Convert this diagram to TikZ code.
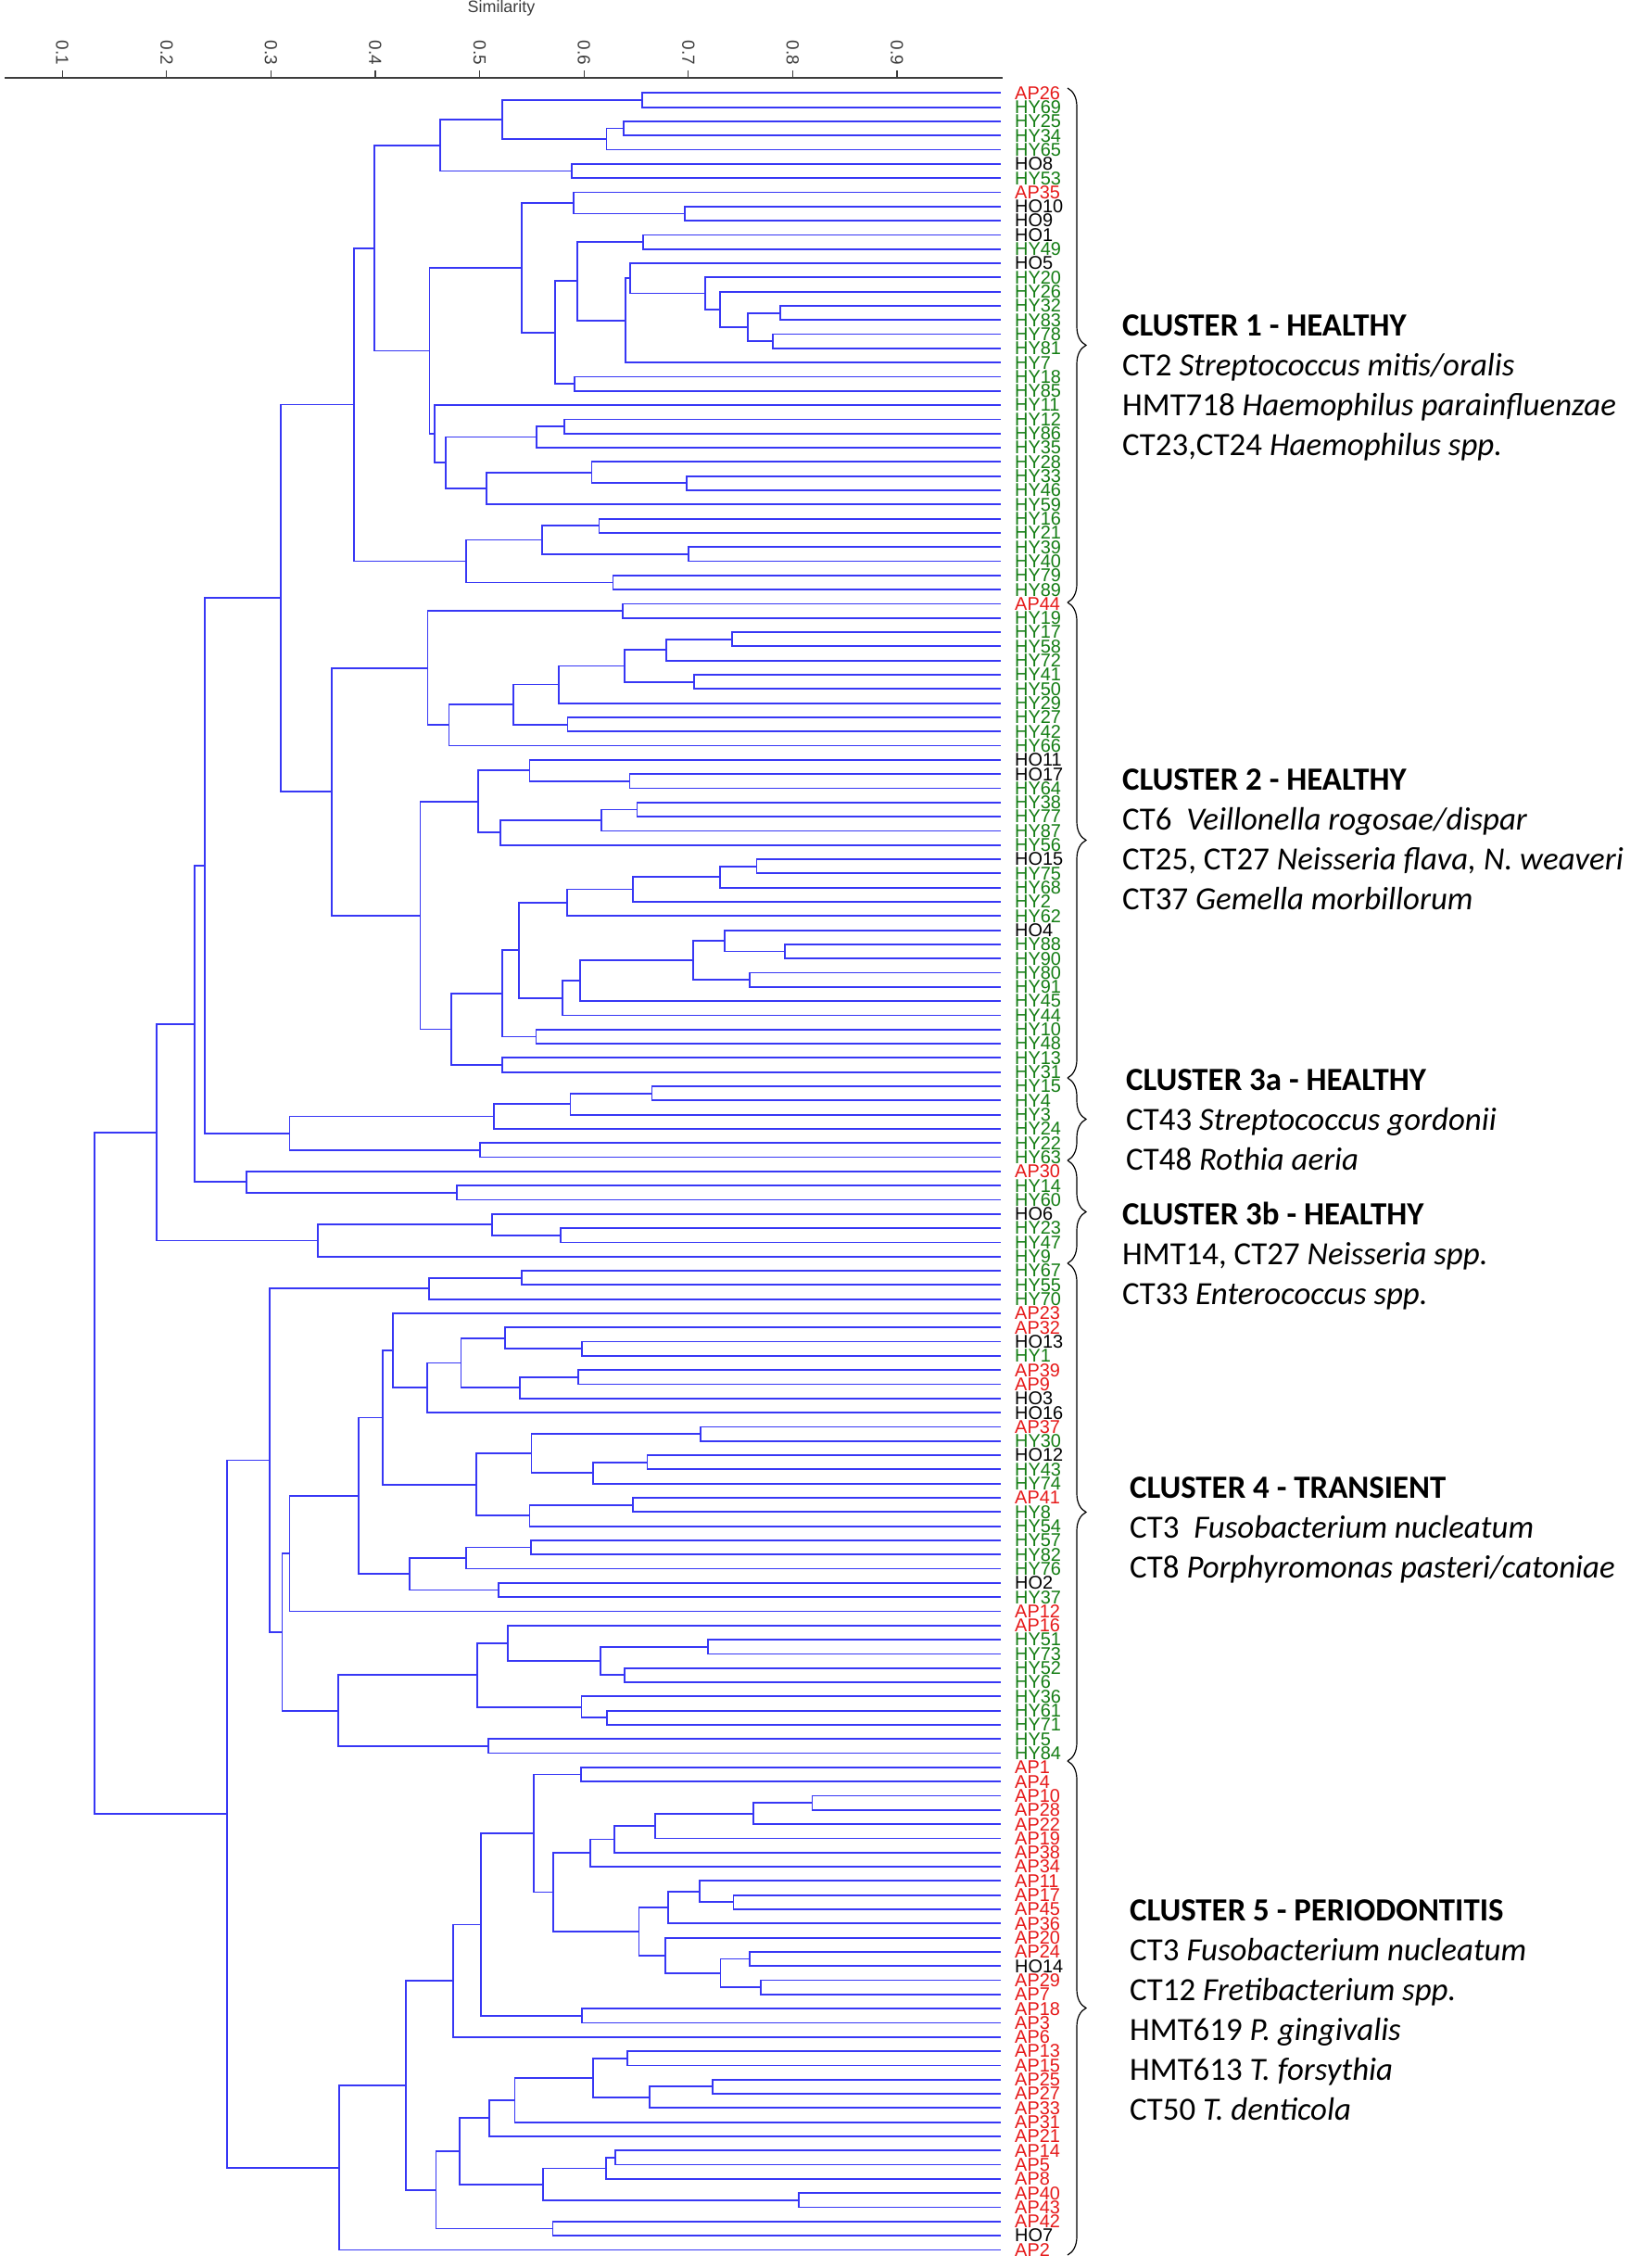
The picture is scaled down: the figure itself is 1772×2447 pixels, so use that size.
\documentclass[tikz,border=0pt]{standalone}
\usepackage{fontspec}
\setmainfont{Carlito}
\newfontfamily\plotfont{Liberation Sans}
\usetikzlibrary{calc,decorations.pathreplacing}

\definecolor{treeblue}{RGB}{55,55,245}
\definecolor{AP}{RGB}{230,25,25}
\definecolor{HY}{RGB}{20,125,20}
\definecolor{HO}{RGB}{0,0,0}
\definecolor{axisgray}{RGB}{60,60,60}

\tikzset{
  branch/.style={draw=treeblue, line width=1.8bp},
  leaf/.style={anchor=west, inner xsep=15bp, inner ysep=0pt, text=#1,
    font=\plotfont\fontsize{20}{20}\selectfont},
  ticklabel/.style={rotate=-90, inner sep=0pt, text=axisgray,
    font=\plotfont\fontsize{19}{19}\selectfont},
  clbrace/.style={decorate, decoration={brace, amplitude=20bp}, line width=1.2bp},
  clhead/.style={anchor=base west, inner sep=0pt, font=\fontsize{35}{35}\selectfont\bfseries},
  clline/.style={anchor=base west, inner sep=0pt, font=\fontsize{35}{35}\selectfont}
}

% join two children (leaf or merge) at position x of the similarity axis
\newcommand\joinpair[4]{%
  \coordinate (#1m) at ($(#2.west)!.5!(#3.west)$);
  \coordinate (#1x) at (#4,0);
  \coordinate (#1) at (#1m -| #1x);
  \draw[branch] (#2.west) -| (#1) |- (#3.west);
}

\begin{document}
\begin{tikzpicture}[x=1bp,y=-1bp]
\useasboundingbox (0,0) rectangle (1772,2447);
%%% similarity axis
\node[anchor=base, inner sep=0pt, text=axisgray, font=\plotfont\fontsize{18}{18}\selectfont] (simtitle) at (541,13.5) {Similarity};
\draw[axisgray, line width=1.6bp] (5,84) coordinate (ax0) -- (1082,84) coordinate (ax1);
\foreach \k in {1,...,9}{
  \draw[axisgray, line width=1.3bp] ({67.2+(\k-1)*112.6},76) -- ({67.2+(\k-1)*112.6},84);
  \node[ticklabel] (tick\k) at ({67.2+(\k-1)*112.6},57) {0.\k};
}
%%% samples (leaves)
\foreach \grp/\num [count=\i] in {AP/26,HY/69,HY/25,HY/34,HY/65,HO/8,HY/53,AP/35,HO/10,HO/9,
  HO/1,HY/49,HO/5,HY/20,HY/26,HY/32,HY/83,HY/78,HY/81,HY/7,HY/18,HY/85,HY/11,HY/12,HY/86,
  HY/35,HY/28,HY/33,HY/46,HY/59,HY/16,HY/21,HY/39,HY/40,HY/79,HY/89,AP/44,HY/19,HY/17,HY/58,
  HY/72,HY/41,HY/50,HY/29,HY/27,HY/42,HY/66,HO/11,HO/17,HY/64,HY/38,HY/77,HY/87,HY/56,HO/15,
  HY/75,HY/68,HY/2,HY/62,HO/4,HY/88,HY/90,HY/80,HY/91,HY/45,HY/44,HY/10,HY/48,HY/13,HY/31,
  HY/15,HY/4,HY/3,HY/24,HY/22,HY/63,AP/30,HY/14,HY/60,HO/6,HY/23,HY/47,HY/9,HY/67,HY/55,
  HY/70,AP/23,AP/32,HO/13,HY/1,AP/39,AP/9,HO/3,HO/16,AP/37,HY/30,HO/12,HY/43,HY/74,AP/41,
  HY/8,HY/54,HY/57,HY/82,HY/76,HO/2,HY/37,AP/12,AP/16,HY/51,HY/73,HY/52,HY/6,HY/36,HY/61,
  HY/71,HY/5,HY/84,AP/1,AP/4,AP/10,AP/28,AP/22,AP/19,AP/38,AP/34,AP/11,AP/17,AP/45,AP/36,
  AP/20,AP/24,HO/14,AP/29,AP/7,AP/18,AP/3,AP/6,AP/13,AP/15,AP/25,AP/27,AP/33,AP/31,AP/21,
  AP/14,AP/5,AP/8,AP/40,AP/43,AP/42,HO/7,AP/2}
  \node[leaf=\grp] (\grp\num) at (1080,{100.3+(\i-1)*15.31}) {\grp\num};
%%% merges: name/child/child/x
\foreach \nm/\ca/\cb/\xx in {n1/AP26/HY69/692.8,n2/HY25/HY34/672.9,n3/n2/HY65/654.5,
  n4/n1/n3/541.7,n5/HO8/HY53/616.6,n6/n4/n5/475.3,n7/HO10/HO9/738.7,n8/AP35/n7/619.3,
  n9/HO1/HY49/694,n10/HY32/HY83/842,n11/HY78/HY81/833.6,n12/n10/n11/806.8,n13/HY26/n12/777,
  n14/HY20/n13/761,n15/HO5/n14/679.8,n16/n15/HY7/674.8,n17/n9/n16/623,n18/HY18/HY85/620,
  n19/n17/n18/599,n20/n8/n19/563,n21/HY12/HY86/609,n22/n21/HY35/579,n23/HY33/HY46/740.6,
  n24/HY28/n23/638.5,n25/HY16/HY21/646.5,n26/HY39/HY40/742.9,n27/n25/n26/585.3,
  n28/HY79/HY89/661.4,n29/AP44/HY19/672.1,n30/HY17/HY58/789.6,n31/n30/HY72/718.8,
  n32/HY41/HY50/748.7,n33/n31/n32/674,n34/n33/HY29/603.2,n35/HY27/HY42/612.4,
  n36/HO17/HY64/679.4,n37/HO11/n36/571.5,n38/HY38/HY77/687.4,n39/n38/HY87/649.2,
  n40/HO15/HY75/816.4,n41/n40/HY68/777,n42/n41/HY2/683.2,n43/n42/HY62/611.7,
  n44/HY88/HY90/847,n45/HO4/n44/782,n46/HY80/HY91/808.8,n47/n45/n46/748.3,
  n48/n47/HY45/626.2,n49/n48/HY44/607.1,n50/HY10/HY48/578.4,n51/HY15/HY4/703.5,
  n52/n51/HY3/615.5,n53/HY23/HY47/604.8,n54/HY67/HY55/563,n55/HO13/HY1/628.1,
  n56/AP39/AP9/623.9,n57/n56/HO3/560.8,n58/AP37/HY30/756,n59/HO12/HY43/698.5,
  n60/n59/HY74/639.6,n61/n58/n60/573.4,n62/AP41/HY8/683.2,n63/n62/HY54/571.5,
  n64/HY57/HY82/572.6,n65/HY51/HY73/764,n66/HY52/HY6/674,n67/n65/n66/647.6,
  n68/HY61/HY71/654.9,n69/HY36/n68/627.4,n70/AP1/AP4/627,n71/AP10/AP28/876.5,
  n72/n71/AP22/812.6,n73/n72/AP19/707.3,n74/n73/AP38/662.6,n75/n74/AP34/637.3,
  n76/AP17/AP45/791.5,n77/AP11/n76/755.2,n78/n77/AP36/720.7,n79/AP24/HO14/808.8,
  n80/AP29/AP7/821,n81/n79/n80/777.4,n82/AP20/n81/717.7,n83/n78/n82/689.4,
  n84/n75/n83/597.1,n85/n70/n84/576.1,n86/AP18/AP3/628.1,n87/AP13/AP15/676.7,
  n88/AP25/AP27/768.6,n89/n88/AP33/700.8,n90/n87/n89/639.6,n91/AP14/AP5/664.1,
  n92/n91/AP8/654.1,n93/AP40/AP43/862.3,n94/n92/n93/586,n95/AP42/HO7/596.4,
  n96/n24/HY59/524.7,n97/n22/n96/481.2,n98/HY11/n97/469.3,n99/n20/n98/463.4,
  n100/n6/n99/404.1,n101/n27/n28/503.3,n102/n100/n101/381.6,n104/n34/n35/553.6,
  n105/n104/HY66/484.4,n103/n29/n105/461.4,n106/n39/HY56/539.7,n107/n37/n106/516,
  n108/n43/n49/560.3,n109/n108/n50/541.7,n111/HY13/HY31/541.7,n110/n109/n111/487.1,
  n112/n107/n110/453.5,n113/n103/n112/357.8,n114/n102/n113/303.3,n116/n52/HY24/532.6,
  n117/HY22/HY63/518,n118/n116/n117/312.4,n115/n114/n118/220.6,n120/HY14/HY60/493,
  n121/AP30/n120/265.7,n119/n115/n121/209.6,n122/HO6/n53/531,n123/n122/HY9/343.2,
  n124/n119/n123/169.2,n125/n54/HY70/462.6,n129/AP32/n55/544.9,n130/n129/n57/497.4,
  n131/n130/HO16/460.6,n132/AP23/n131/424.3,n133/n61/n63/514,n134/n132/n133/413.2,
  n135/n64/HY76/503,n136/HO2/HY37/537.7,n137/n135/n136/441.7,n138/n134/n137/386.7,
  n128/n138/AP12/312.4,n139/AP16/n67/547.6,n140/n139/n69/514.8,n141/HY5/HY84/526.7,
  n142/n140/n141/364.6,n127/n128/n142/304.5,n126/n125/n127/290.6,n143/n85/n86/518.8,
  n144/n143/AP6/489.1,n145/n90/AP31/555.5,n146/n145/AP21/527.9,n147/n146/n94/496.2,
  n148/n147/n95/470.5,n149/n144/n148/438.1,n150/n149/AP2/365.7,n151/n126/n150/245.1,
  n152/n124/n151/102}
  {\joinpair{\nm}{\ca}{\cb}{\xx}}
%%% cluster braces
\foreach \yy [count=\k] in {95,650,1163,1252,1363,1900,2433}
  \coordinate (cut\k) at (1152,\yy);
\foreach \a/\b in {1/2,2/3,3/4,4/5,5/6,6/7}
  \draw[clbrace] (cut\a) -- (cut\b);
%%% cluster descriptions
\node[clhead] (c1) at (1211,362) {CLUSTER 1 - HEALTHY};
\node[clline] (c1a) at (1211,405) {CT2 \textit{Streptococcus mitis/oralis}};
\node[clline] (c1b) at (1211,448) {HMT718 \textit{Haemophilus parainfluenzae}};
\node[clline] (c1c) at (1211,491) {CT23,CT24 \textit{Haemophilus spp.}};
%
\node[clhead] (c2) at (1211,852) {CLUSTER 2 - HEALTHY};
\node[clline] (c2a) at (1211,895) {CT6\ \ \textit{Veillonella rogosae/dispar}};
\node[clline] (c2b) at (1211,938) {CT25, CT27 \textit{Neisseria flava, N. weaveri}};
\node[clline] (c2c) at (1211,981) {CT37 \textit{Gemella morbillorum}};
%
\node[clhead] (c3a) at (1215,1176) {CLUSTER 3a - HEALTHY};
\node[clline] (c3a1) at (1215,1219) {CT43 \textit{Streptococcus gordonii}};
\node[clline] (c3a2) at (1215,1262) {CT48 \textit{Rothia aeria}};
%
\node[clhead] (c3b) at (1211,1321) {CLUSTER 3b - HEALTHY};
\node[clline] (c3b1) at (1211,1364) {HMT14, CT27 \textit{Neisseria spp.}};
\node[clline] (c3b2) at (1211,1407) {CT33 \textit{Enterococcus spp.}};
%
\node[clhead] (c4) at (1219,1616) {CLUSTER 4 - TRANSIENT};
\node[clline] (c4a) at (1219,1659) {CT3\ \ \textit{Fusobacterium nucleatum}};
\node[clline] (c4b) at (1219,1702) {CT8 \textit{Porphyromonas pasteri/catoniae}};
%
\node[clhead] (c5) at (1219,2072) {CLUSTER 5 - PERIODONTITIS};
\node[clline] (c5a) at (1219,2115) {CT3 \textit{Fusobacterium nucleatum}};
\node[clline] (c5b) at (1219,2158) {CT12 \textit{Fretibacterium spp.}};
\node[clline] (c5c) at (1219,2201) {HMT619 \textit{P. gingivalis}};
\node[clline] (c5d) at (1219,2244) {HMT613 \textit{T. forsythia}};
\node[clline] (c5e) at (1219,2287) {CT50 \textit{T. denticola}};
\end{tikzpicture}
\end{document}
